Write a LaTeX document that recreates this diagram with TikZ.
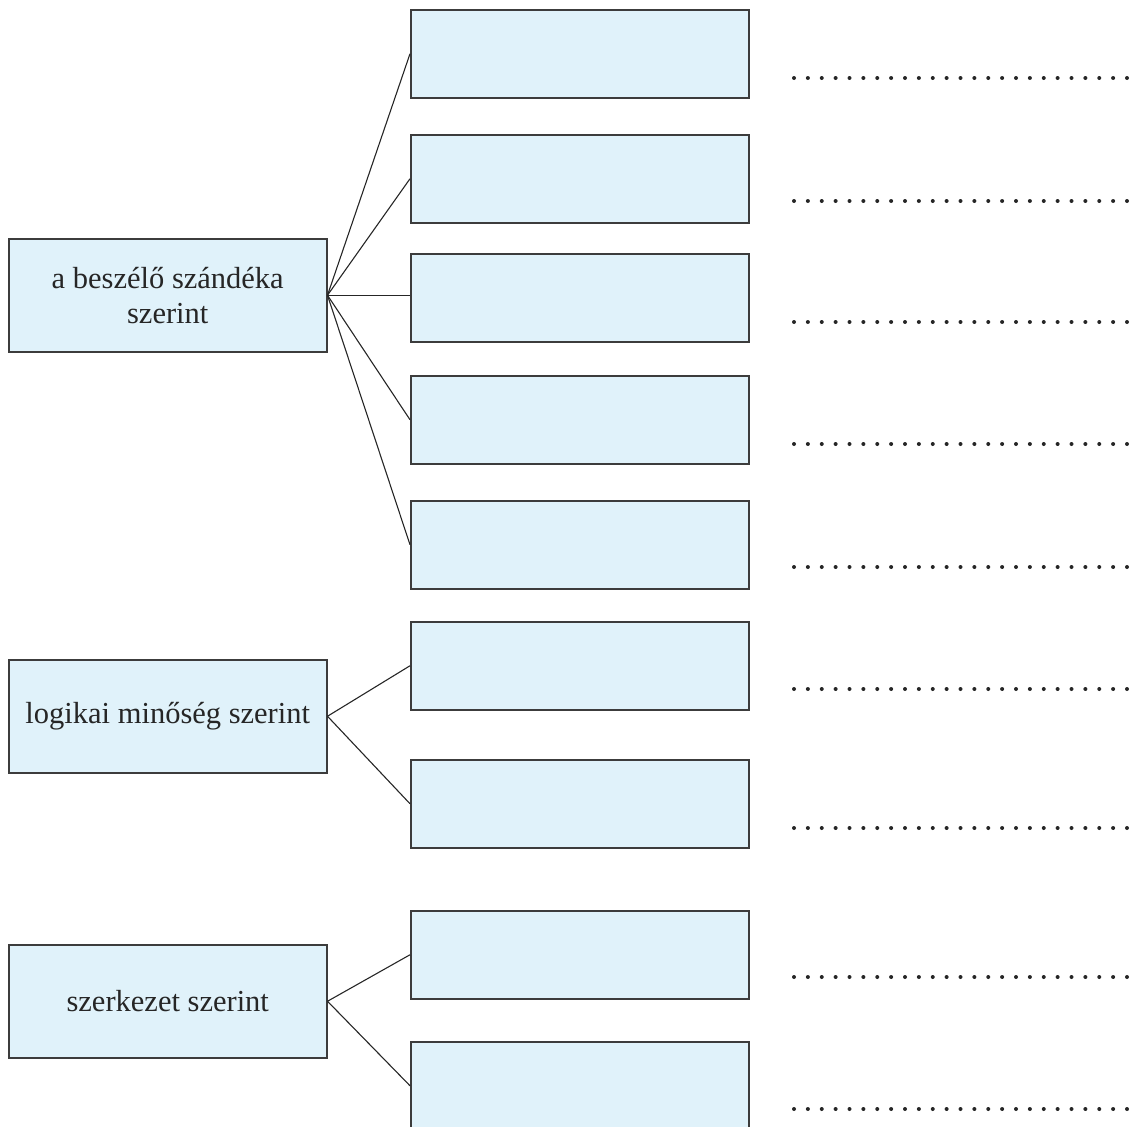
\documentclass[tikz,border=0pt]{standalone}
\usepackage{fontspec}
\setmainfont{Liberation Serif}
\definecolor{boxfill}{RGB}{224,242,250}
\definecolor{boxline}{RGB}{60,60,60}
\tikzset{
  catbox/.style={draw=boxline, line width=1.5pt, fill=boxfill, rectangle, inner sep=0pt,
    minimum width=318pt, minimum height=113pt, anchor=north west, align=center,
    font=\fontsize{30.5}{35}\selectfont, text=black!85},
  ansbox/.style={draw=boxline, line width=1.5pt, fill=boxfill, rectangle, inner sep=0pt,
    minimum width=338pt, minimum height=88pt, anchor=north west},
  conn/.style={draw=black!85, line width=1.1pt},
  dotmark/.style={fill=black!85}
}
\begin{document}
\begin{tikzpicture}[x=1pt,y=-1pt]
\useasboundingbox (0,0) rectangle (1130,1127);
% left category boxes
\node[catbox] (A) at (8,238) {a beszélő szándéka\\szerint};
\node[catbox] (B) at (8,659) {logikai minőség szerint};
\node[catbox] (C) at (8,944) {szerkezet szerint};
% right answer boxes
\foreach \n/\y in {r1/9, r2/134, r3/253, r4/375, r5/500, r6/621, r7/759, r8/910, r9/1041}{
  \node[ansbox] (\n) at (410,\y) {};
}
% connectors
\foreach \n in {r1,r2,r4,r5}{ \draw[conn] (A.east) -- (\n.west); }
\draw[conn] (A.east) -- (A.east -| r3.west);
\foreach \n in {r6,r7}{ \draw[conn] (B.east) -- (\n.west); }
\foreach \n in {r8,r9}{ \draw[conn] (C.east) -- (\n.west); }
% dotted answer lines
\foreach \y in {78, 201, 322, 444, 567, 689, 828, 977, 1109}{
  \foreach \i in {0,...,24}{
    \fill[dotmark] (794+\i*13.875,\y) circle (2);
  }
}
\end{tikzpicture}
\end{document}
